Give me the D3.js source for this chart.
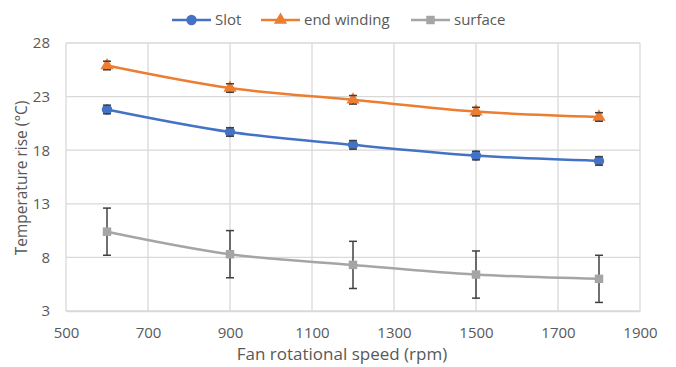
<!DOCTYPE html>
<html><head><meta charset="utf-8">
<script src="https://cdn.jsdelivr.net/npm/d3@7"></script>
<style>body{margin:0;background:#fff}svg{display:block}text{font-family:"Open Sans",sans-serif}</style>
</head><body><svg id="c" width="676" height="367"></svg>
<script>
const speeds = [600, 900, 1200, 1500, 1800];
const slot = [21.8, 19.7, 18.5, 17.5, 17.0];
const slotErr = [0.4, 0.4, 0.4, 0.4, 0.4];
const endWinding = [25.9, 23.8, 22.7, 21.6, 21.1];
const endErr = [0.4, 0.4, 0.4, 0.4, 0.4];
const surface = [10.4, 8.3, 7.3, 6.4, 6.0];
const surfErr = [2.2, 2.2, 2.2, 2.2, 2.2];
const xTicks = [500, 700, 900, 1100, 1300, 1500, 1700, 1900];
const yTicks = [3, 8, 13, 18, 23, 28];
const seriesNames = ["Slot", "end winding", "surface"];
const colors = ["#4472C4", "#ED7D31", "#A5A5A5"];

const svg = d3.select("#c");
const x = d3.scaleLinear().domain([500, 1900]).range([66, 640]);
const y = d3.scaleLinear().domain([3, 28]).range([311, 43]);

// grid
svg.append("g").selectAll("line").data(yTicks).join("line")
  .attr("x1", x(500)).attr("x2", x(1900)).attr("y1", d => y(d)).attr("y2", d => y(d))
  .attr("stroke", "#d9d9d9").attr("stroke-width", 1.3);
svg.append("g").selectAll("line").data(xTicks).join("line")
  .attr("y1", y(3)).attr("y2", y(28)).attr("x1", d => x(d)).attr("x2", d => x(d))
  .attr("stroke", "#d9d9d9").attr("stroke-width", 1.3);

// axes labels
const yAxis = d3.axisLeft(y).tickValues(yTicks).tickSize(0).tickPadding(16);
const gy = svg.append("g").attr("transform", `translate(${x(500)},0)`).call(yAxis);
gy.select(".domain").remove();
gy.selectAll("text").attr("fill", "#595959").style("font-size", "15px");
const xAxis = d3.axisBottom(x).tickValues(xTicks).tickFormat(d3.format("d")).tickSize(0).tickPadding(16);
const gx = svg.append("g").attr("transform", `translate(0,${y(3)})`).call(xAxis);
gx.select(".domain").attr("stroke", "#d9d9d9").attr("stroke-width", 1.3);
gx.selectAll("text").attr("fill", "#595959").style("font-size", "15px");

svg.append("text").attr("transform", `translate(27,${(y(3)+y(28))/2 + 1}) rotate(-90)`)
  .attr("text-anchor", "middle").attr("fill", "#595959").style("font-size", "15.5px")
  .text("Temperature rise (°C)");
svg.append("text").attr("x", 342).attr("y", 360)
  .attr("text-anchor", "middle").attr("fill", "#595959").style("font-size", "17px")
  .text("Fan rotational speed (rpm)");

const all = [
  {name: seriesNames[0], vals: slot, err: slotErr, color: colors[0], sym: d3.symbolCircle, size: 85},
  {name: seriesNames[1], vals: endWinding, err: endErr, color: colors[1], sym: d3.symbolTriangle, size: 75},
  {name: seriesNames[2], vals: surface, err: surfErr, color: colors[2], sym: d3.symbolSquare, size: 72}
];
const line = d3.line().curve(d3.curveCatmullRom.alpha(0.5)).x(d => x(d[0])).y(d => y(d[1]));
all.forEach(s => {
  const pts = speeds.map((sp, i) => [sp, s.vals[i], s.err[i]]);
  svg.append("path").datum(pts).attr("d", line).attr("fill", "none")
    .attr("stroke", s.color).attr("stroke-width", 2.5);
  const g = svg.append("g");
  g.selectAll("line.bar").data(pts).join("line").attr("class", "bar")
    .attr("x1", d => x(d[0])).attr("x2", d => x(d[0]))
    .attr("y1", d => y(d[1] + d[2])).attr("y2", d => y(d[1] - d[2]))
    .attr("stroke", "#404040").attr("stroke-width", 1.5);
  g.selectAll("path").data(pts).join("path")
    .attr("d", d3.symbol().type(s.sym).size(s.size))
    .attr("transform", d => `translate(${x(d[0])},${y(d[1])})`)
    .attr("fill", s.color);
  [1, -1].forEach(sign => {
    g.selectAll(null).data(pts).join("line")
      .attr("x1", d => x(d[0]) - 4).attr("x2", d => x(d[0]) + 4)
      .attr("y1", d => y(d[1] + sign * d[2])).attr("y2", d => y(d[1] + sign * d[2]))
      .attr("stroke", "#404040").attr("stroke-width", 1.5);
  });
});

// legend
const legX = [172, 261, 411];
all.forEach((s, i) => {
  const lg = svg.append("g").attr("transform", `translate(${legX[i]},20)`);
  lg.append("line").attr("x1", 0).attr("x2", 39).attr("stroke", s.color).attr("stroke-width", 2.5);
  lg.append("path").attr("d", d3.symbol().type(s.sym).size(s.size)).attr("transform", "translate(19.5,0)").attr("fill", s.color);
  lg.append("text").attr("x", 43).attr("y", 0).attr("dy", "0.35em").attr("fill", "#595959").style("font-size", "15px").text(s.name);
});
</script></body></html>
